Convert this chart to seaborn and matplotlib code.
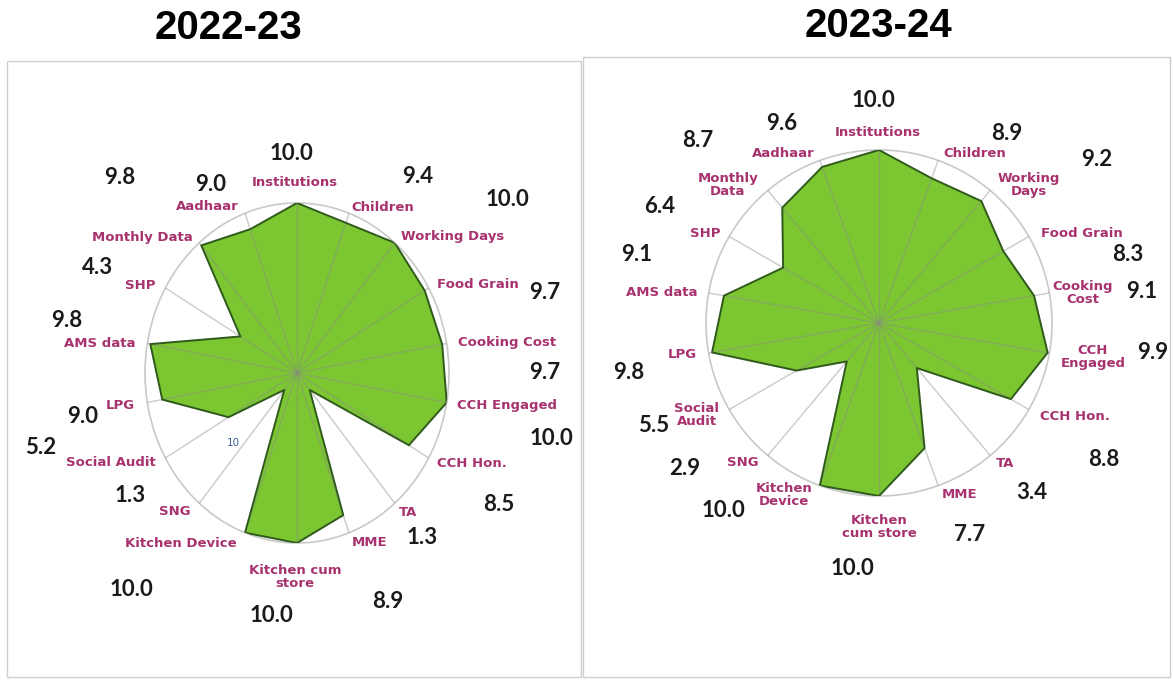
#bibliotecas
import numpy as np
import pandas as pd
import matplotlib
matplotlib.use('Agg')
import matplotlib.pyplot as plt
import seaborn as sns
from matplotlib.patches import Rectangle

#dados - categorias no sentido horario a partir do topo
categorias = ['Institutions', 'Children', 'Working Days', 'Food Grain', 'Cooking Cost',
              'CCH Engaged', 'CCH Hon.', 'TA', 'MME', 'Kitchen cum store', 'Kitchen Device',
              'SNG', 'Social Audit', 'LPG', 'AMS data', 'SHP', 'Monthly Data', 'Aadhaar']

rotulos_22 = ['Institutions', 'Children', 'Working Days', 'Food Grain', 'Cooking Cost',
              'CCH Engaged', 'CCH Hon.', 'TA', 'MME', 'Kitchen cum\nstore', 'Kitchen Device',
              'SNG', 'Social Audit', 'LPG', 'AMS data', 'SHP', 'Monthly Data', 'Aadhaar']
rotulos_23 = ['Institutions', 'Children', 'Working\nDays', 'Food Grain', 'Cooking\nCost',
              'CCH\nEngaged', 'CCH Hon.', 'TA', 'MME', 'Kitchen\ncum store', 'Kitchen\nDevice',
              'SNG', 'Social\nAudit', 'LPG', 'AMS data', 'SHP', 'Monthly\nData', 'Aadhaar']

notas_22 = [10.0, 9.4, 10.0, 9.7, 9.7, 10.0, 8.5, 1.3, 8.9, 10.0, 10.0, 1.3, 5.2, 9.0, 9.8, 4.3, 9.8, 9.0]
notas_23 = [10.0, 8.9, 9.2, 8.3, 9.1, 9.9, 8.8, 3.4, 7.7, 10.0, 10.0, 2.9, 5.5, 9.8, 9.1, 6.4, 8.7, 9.6]

anos = ['2022-23', '2023-24']

#layout dos rotulos: (angulo em graus, raio relativo ao anel externo)
pos_cat_22 = [(90.7, 1.118), (59.9, 1.128), (38, 1.301), (23.5, 1.299), (7.3, 1.393), (-7.8, 1.395),
              (-24.7, 1.267), (-48.3, 1.096), (-64.6, 1.107), (-90.6, 1.2), (-127.3, 1.258),
              (-134.5, 1.146), (-156.6, 1.333), (-170.8, 1.179), (172.3, 1.308), (153.4, 1.155),
              (141.9, 1.296), (121.2, 1.142)]
pos_val_22 = [(91.5, 1.294), (55.4, 1.401), (36.4, 1.716), (16.1, 1.698), (0.2, 1.632), (-12.9, 1.714),
              (-30.3, 1.539), (-49.6, 1.268), (-66, 1.474), (-96.8, 1.434), (-130.4, 1.676),
              (-146.8, 1.312), (-165.5, 1.739), (-169.6, 1.431), (168.5, 1.545), (154.7, 1.448),
              (135.3, 1.639), (117.3, 1.245)]
pos_cat_23 = [(90.3, 1.104), (60.4, 1.124), (42.6, 1.178), (23.9, 1.283), (8.4, 1.192), (-9.0, 1.252),
              (-25.4, 1.254), (-48.0, 1.089), (-64.7, 1.094), (-90, 1.179), (-118.9, 1.136),
              (-134.2, 1.128), (-153.2, 1.179), (-170.8, 1.154), (171.9, 1.267), (152.7, 1.132),
              (137.6, 1.183), (119.5, 1.129)]
pos_val_23 = [(91.5, 1.289), (56, 1.324), (36.8, 1.573), (15.3, 1.492), (6.9, 1.531), (-6.2, 1.593),
              (-31.3, 1.523), (-48, 1.322), (-66.8, 1.333), (-96.3, 1.425), (-129.8, 1.408),
              (-143.2, 1.400), (-155.6, 1.428), (-168.9, 1.473), (164.3, 1.453), (152.1, 1.433),
              (134.7, 1.488), (115.9, 1.285)]

#cores
VERDE = '#7bc631'
CONTORNO = '#2f5a1c'
ROSA = '#a8326e'
CINZA = '#c9c9c9'

W, H = 1173, 684

sns.set_style('white')
plt.rcParams['font.family'] = ['DejaVu Sans']


# funcao auxiliar para desenhar um radar
def radar(ax, notas, rotulos, pos_cat, pos_val):
    ang = np.linspace(0, 2 * np.pi, len(notas), endpoint=False)
    df = pd.DataFrame({'ang': np.append(ang, 2 * np.pi), 'nota': notas + notas[:1]})

    ax.set_aspect('auto')
    ax.set_theta_offset(np.pi / 2)
    ax.set_theta_direction(-1)
    ax.set_ylim(0, 10)

    ax.fill(df['ang'], df['nota'], color=VERDE, lw=0, zorder=2)
    sns.lineplot(data=df, x='ang', y='nota', sort=False, color=CONTORNO, lw=1.4,
                 ax=ax, zorder=3, estimator=None)

    ax.set_xticks(ang)
    ax.set_xticklabels([])
    ax.set_yticks([])
    ax.set_xlabel('')
    ax.set_ylabel('')
    ax.set_axisbelow(False)
    ax.xaxis.grid(True, color='#8a8a8a', alpha=0.45, lw=1)
    ax.spines['polar'].set_color(CINZA)
    ax.spines['polar'].set_linewidth(1.2)
    ax.set_facecolor('none')

    for (a, r), txt in zip(pos_cat, rotulos):
        ax.text(np.deg2rad(90 - a), r * 10, txt, ha='center', va='center',
                color=ROSA, fontsize=9.5, fontweight='bold', linespacing=1.05)

    for (a, r), v in zip(pos_val, notas):
        ax.text(np.deg2rad(90 - a), r * 10, f'{v:.1f}', ha='center', va='center',
                color='#1a1a1a', fontsize=16, fontweight='bold', family='Lato')


fig = plt.figure(figsize=(W / 100, H / 100), dpi=100)

#molduras
fig.add_artist(Rectangle((7 / W, 1 - 677 / H), (581 - 7) / W, (677 - 61) / H,
                         transform=fig.transFigure, fill=False, ec='#cfcfcf', lw=1))
fig.add_artist(Rectangle((583 / W, 1 - 677 / H), (1170 - 583) / W, (677 - 57) / H,
                         transform=fig.transFigure, fill=False, ec='#cfcfcf', lw=1))

# 2022-23: centro (297,373), raios 152 x 170 px
ax1 = fig.add_axes([(297 - 152) / W, 1 - (373 + 170) / H, 304 / W, 340 / H], projection='polar')
radar(ax1, notas_22, rotulos_22, pos_cat_22, pos_val_22)
ax1.text(np.deg2rad(90 + 135.6), 5.9, '10', ha='center', va='center', color='#3b5f9a', fontsize=7.5)

# 2023-24: centro (879,323), raio 173 px
ax2 = fig.add_axes([(879 - 173) / W, 1 - (323 + 173) / H, 346 / W, 346 / H], projection='polar')
radar(ax2, notas_23, rotulos_23, pos_cat_23, pos_val_23)

#titulos
fig.text(229 / W, 1 - 28 / H, anos[0], ha='center', va='center', fontsize=29,
         fontweight='bold', family='Liberation Sans', color='black')
fig.text(878 / W, 1 - 26 / H, anos[1], ha='center', va='center', fontsize=29,
         fontweight='bold', family='Liberation Sans', color='black')

fig.savefig('out.png', dpi=100)
